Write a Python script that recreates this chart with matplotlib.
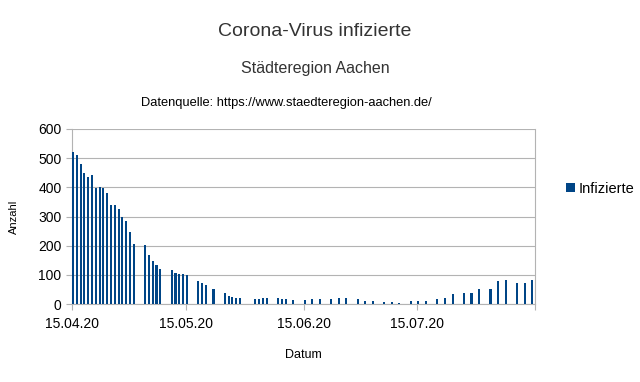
import numpy as np
import pandas as pd
import matplotlib
matplotlib.use("Agg")
import matplotlib.pyplot as plt
import matplotlib.dates as mdates

plt.rcParams['font.family'] = ['Liberation Sans', 'DejaVu Sans']

# Meldetage (2020) und Anzahl Infizierte
dates = ["15.04", "16.04", "17.04", "18.04", "19.04", "20.04", "21.04", "22.04",
         "23.04", "24.04", "25.04", "26.04", "27.04", "28.04", "29.04", "30.04",
         "01.05", "04.05", "05.05", "06.05", "07.05", "08.05", "11.05", "12.05",
         "13.05", "14.05", "15.05", "18.05", "19.05", "20.05", "22.05", "25.05",
         "26.05", "27.05", "28.05", "29.05", "02.06", "03.06", "04.06", "05.06",
         "08.06", "09.06", "10.06", "12.06", "15.06", "17.06", "19.06", "22.06",
         "24.06", "26.06", "29.06", "01.07", "03.07", "06.07", "08.07", "10.07",
         "13.07", "15.07", "17.07", "20.07", "22.07", "24.07", "27.07", "29.07",
         "31.07", "03.08", "05.08", "07.08", "10.08", "12.08", "14.08"]
infizierte = [520, 510, 479, 448, 434, 443, 399, 402, 399, 379, 338, 338, 326, 299,
              283, 247, 205, 203, 169, 146, 134, 121, 115, 106, 103, 102, 100,
              78, 71, 64, 53, 38, 27, 24, 22, 22, 18, 18, 20, 20,
              19, 18, 16, 14, 13, 16, 18, 18, 19, 19, 16, 12, 9, 8, 8, 2,
              9, 12, 9, 18, 22, 35, 38, 38, 52, 52, 79, 81, 71, 71, 82]

tick_labels = ["15.04.20", "15.05.20", "15.06.20", "15.07.20"]

x = pd.to_datetime([d + ".2020" for d in dates], format="%d.%m.%Y")
ticks = pd.to_datetime(tick_labels, format="%d.%m.%y")

fig = plt.figure(figsize=(6.4, 3.82), dpi=100)
ax = fig.add_axes([72 / 640, 1 - 304 / 382, 463 / 640, 175 / 382])

ax.bar(x, infizierte, width=0.55, align="edge", color="#004586", label="Infizierte", zorder=3)

ax.set_ylim(0, 600)
ax.set_yticks(range(0, 601, 100))
ax.set_xlim(pd.Timestamp("2020-04-15"), pd.Timestamp("2020-08-15"))
ax.set_xticks(list(ticks) + [pd.Timestamp("2020-08-15")])
ax.set_xticklabels(tick_labels + [""])
ax.grid(axis="y", color="#b3b3b3", linewidth=0.8, zorder=0)
for side in ["left", "bottom", "right"]:
    ax.spines[side].set_color("#b3b3b3")
ax.spines["top"].set_visible(False)
ax.tick_params(axis="both", colors="#b3b3b3", labelcolor="black", labelsize=10, length=4)
ax.tick_params(axis="x", pad=5)

ax.set_xlabel("Datum", fontsize=9, labelpad=13)
ax.set_ylabel("Anzahl", fontsize=8, labelpad=14)

fig.text(315 / 640, 1 - 31 / 382, "Corona-Virus infizierte", fontsize=14,
         ha="center", va="center", color="#333333")
fig.text(315 / 640, 1 - 68 / 382, "Städteregion Aachen", fontsize=11.5,
         ha="center", va="center", color="#333333")
fig.text(286 / 640, 1 - 103 / 382, "Datenquelle: https://www.staedteregion-aachen.de/",
         fontsize=9.3, ha="center", va="center", color="black")

fig.legend(loc="center left", bbox_to_anchor=(560 / 640, 1 - 189 / 382), frameon=False,
           handlelength=0.6, handleheight=0.6, handletextpad=0.3, fontsize=10.5,
           borderaxespad=0)

fig.savefig("out.png", dpi=100)
